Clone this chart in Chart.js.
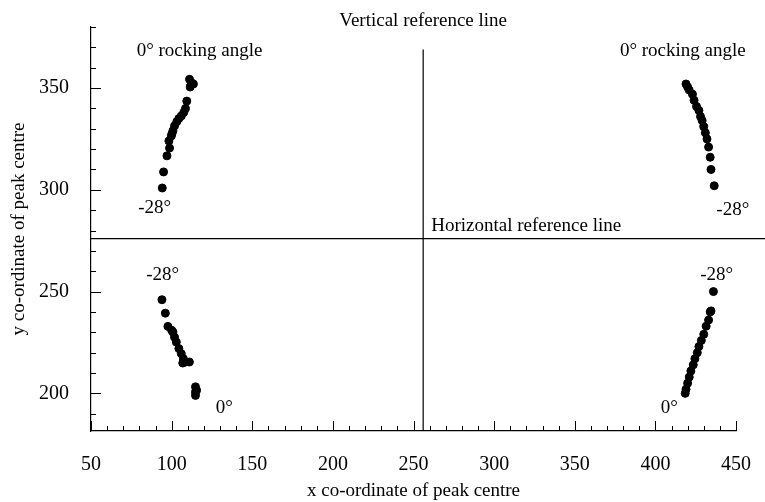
<!DOCTYPE html>
<html>
<head>
<meta charset="utf-8">
<script src="https://cdn.jsdelivr.net/npm/chart.js@4.4.1/dist/chart.umd.min.js"></script>
<style>
    html, body { margin: 0; padding: 0; background: #fff; }
    #wrap { width: 765px; height: 502px; }
</style>
</head>
<body>
<div id="wrap"><canvas id="peak-chart"></canvas></div>
<script>
// Peak centre positions vs rocking angle

const upperLeftX = [111.1, 112.5, 113.5, 111.5, 112, 109.4, 108.6, 107.5, 106, 104.5, 103.2, 101.8, 100.8, 100.2, 99.8, 98.3, 98.7, 97.1, 95, 94.2];
const upperLeftY = [354.3, 352.5, 352, 350.5, 351.5, 343.6, 340, 338, 336.3, 335, 333.5, 331.4, 329, 327.5, 326.5, 324, 320.5, 316.7, 308.8, 300.9];

const lowerLeftX = [94, 96.1, 97.7, 100, 100.8, 101.8, 102.9, 104.5, 106, 107.3, 108.6, 111, 106.9, 114.8, 114.8, 114.8, 115.5];
const lowerLeftY = [246, 239.4, 232.9, 231, 230.1, 227.6, 225.2, 222, 219.5, 217, 215.4, 215.4, 214.9, 203.2, 200.7, 199, 201.5];

const upperRightX = [419, 420, 421, 423, 424, 425.5, 427, 428, 429, 430, 431, 432, 433, 434, 434.5, 436.5];
const upperRightY = [352, 350.5, 349, 347, 344, 341, 339, 336, 334, 331, 328, 325, 321, 316, 310, 302];

const lowerRightX = [418.5, 419, 420, 421, 422, 423.5, 424.5, 426, 427, 428.5, 430, 431.5, 433, 434, 434.5, 436];
const lowerRightY = [200, 202, 205, 208, 211, 214, 217, 220, 223, 226, 229, 233, 236, 240, 240.5, 250];

// reference lines
const verticalRefX = [256, 256];
const verticalRefY = [181.5, 369];
const horizontalRefX = [50, 470];
const horizontalRefY = [276, 276];

// tick labels
const xTicks = [50, 100, 150, 200, 250, 300, 350, 400, 450];
const yTicks = [200, 250, 300, 350];

// annotation texts, anchored in data units
const noteTexts = ['Vertical reference line', '0° rocking angle', '0° rocking angle', 'Horizontal reference line',
    '-28°', '-28°', '-28°', '-28°', '0°', '0°'];
const noteX = [256, 117.3, 417, 261, 89.5, 448, 94.4, 438, 132.7, 408.6];
const noteY = [382.8, 368, 368, 282.4, 291, 290, 258, 258, 193, 193];
const noteAlign = ['center', 'center', 'center', 'left', 'center', 'center', 'center', 'center', 'center', 'center'];

const FONT = '"Liberation Serif", "DejaVu Serif", serif';

function toPoints(xs, ys) {
    return xs.map((x, i) => ({ x: x, y: ys[i] }));
}

function dotSet(xs, ys) {
    return {
        data: toPoints(xs, ys),
        backgroundColor: '#000',
        borderColor: '#000',
        pointRadius: 4,
        pointHoverRadius: 4,
        showLine: false
    };
}

function refLine(xs, ys) {
    return {
        data: toPoints(xs, ys),
        borderColor: '#000',
        borderWidth: 1.2,
        pointRadius: 0,
        showLine: true,
        clip: false
    };
}

// inner tick marks every 10 units, longer every 50
const innerTicks = {
    id: 'innerTicks',
    afterDraw(chart) {
        const ctx = chart.ctx;
        const xs = chart.scales.x;
        const ys = chart.scales.y;
        const area = chart.chartArea;
        ctx.save();
        ctx.strokeStyle = '#000';
        ctx.lineWidth = 1;
        ctx.beginPath();
        for (let v = Math.ceil(xs.min / 10) * 10; v <= xs.max; v += 10) {
            const px = Math.round(xs.getPixelForValue(v)) + 0.5;
            const len = v % 50 === 0 ? 10 : 5;
            ctx.moveTo(px, area.bottom);
            ctx.lineTo(px, area.bottom - len);
        }
        for (let v = Math.ceil(ys.min / 10) * 10; v <= ys.max; v += 10) {
            const py = Math.round(ys.getPixelForValue(v)) + 0.5;
            const len = v % 50 === 0 ? 10 : 5;
            ctx.moveTo(area.left, py);
            ctx.lineTo(area.left + len, py);
        }
        ctx.stroke();
        ctx.restore();
    }
};

// text notes placed through the data scales
const notes = {
    id: 'notes',
    afterDraw(chart) {
        const ctx = chart.ctx;
        const xs = chart.scales.x;
        const ys = chart.scales.y;
        ctx.save();
        ctx.fillStyle = '#000';
        ctx.font = '19px ' + FONT;
        ctx.textBaseline = 'middle';
        noteTexts.forEach((t, i) => {
            ctx.textAlign = noteAlign[i];
            ctx.fillText(t, xs.getPixelForValue(noteX[i]), ys.getPixelForValue(noteY[i]));
        });
        ctx.restore();
    }
};

const ctx = document.getElementById('peak-chart');

new Chart(ctx, {
    type: 'scatter',
    data: {
        datasets: [
            dotSet(upperLeftX, upperLeftY),
            dotSet(lowerLeftX, lowerLeftY),
            dotSet(upperRightX, upperRightY),
            dotSet(lowerRightX, lowerRightY),
            refLine(verticalRefX, verticalRefY),
            refLine(horizontalRefX, horizontalRefY)
        ]
    },
    options: {
        responsive: true,
        maintainAspectRatio: false,
        animation: false,
        layout: {
            padding: { top: 27, right: 26, left: 0, bottom: 0 }
        },
        plugins: {
            legend: { display: false },
            tooltip: { enabled: false }
        },
        scales: {
            x: {
                type: 'linear',
                min: 50,
                max: 450,
                grid: { display: false },
                border: { display: true, color: '#000', width: 1.2 },
                afterBuildTicks: scale => {
                    scale.ticks = xTicks.map(v => ({ value: v }));
                },
                afterFit: scale => { scale.height = 71; },
                ticks: {
                    color: '#000',
                    padding: 14,
                    maxRotation: 0,
                    autoSkip: false,
                    font: { family: FONT, size: 20 }
                },
                title: {
                    display: true,
                    text: 'x co-ordinate of peak centre',
                    color: '#000',
                    padding: { top: 8, bottom: 0 },
                    font: { family: FONT, size: 19 }
                }
            },
            y: {
                type: 'linear',
                min: 181.5,
                max: 380,
                grid: { display: false },
                border: { display: true, color: '#000', width: 1.2 },
                afterBuildTicks: scale => {
                    scale.ticks = yTicks.map(v => ({ value: v }));
                },
                afterFit: scale => { scale.width = 91; },
                ticks: {
                    color: '#000',
                    padding: 14,
                    autoSkip: false,
                    font: { family: FONT, size: 20 }
                },
                title: {
                    display: true,
                    text: 'y co-ordinate of peak centre',
                    color: '#000',
                    padding: { top: 8, bottom: 0 },
                    font: { family: FONT, size: 19 }
                }
            }
        }
    },
    plugins: [innerTicks, notes]
});
</script>
</body>
</html>
